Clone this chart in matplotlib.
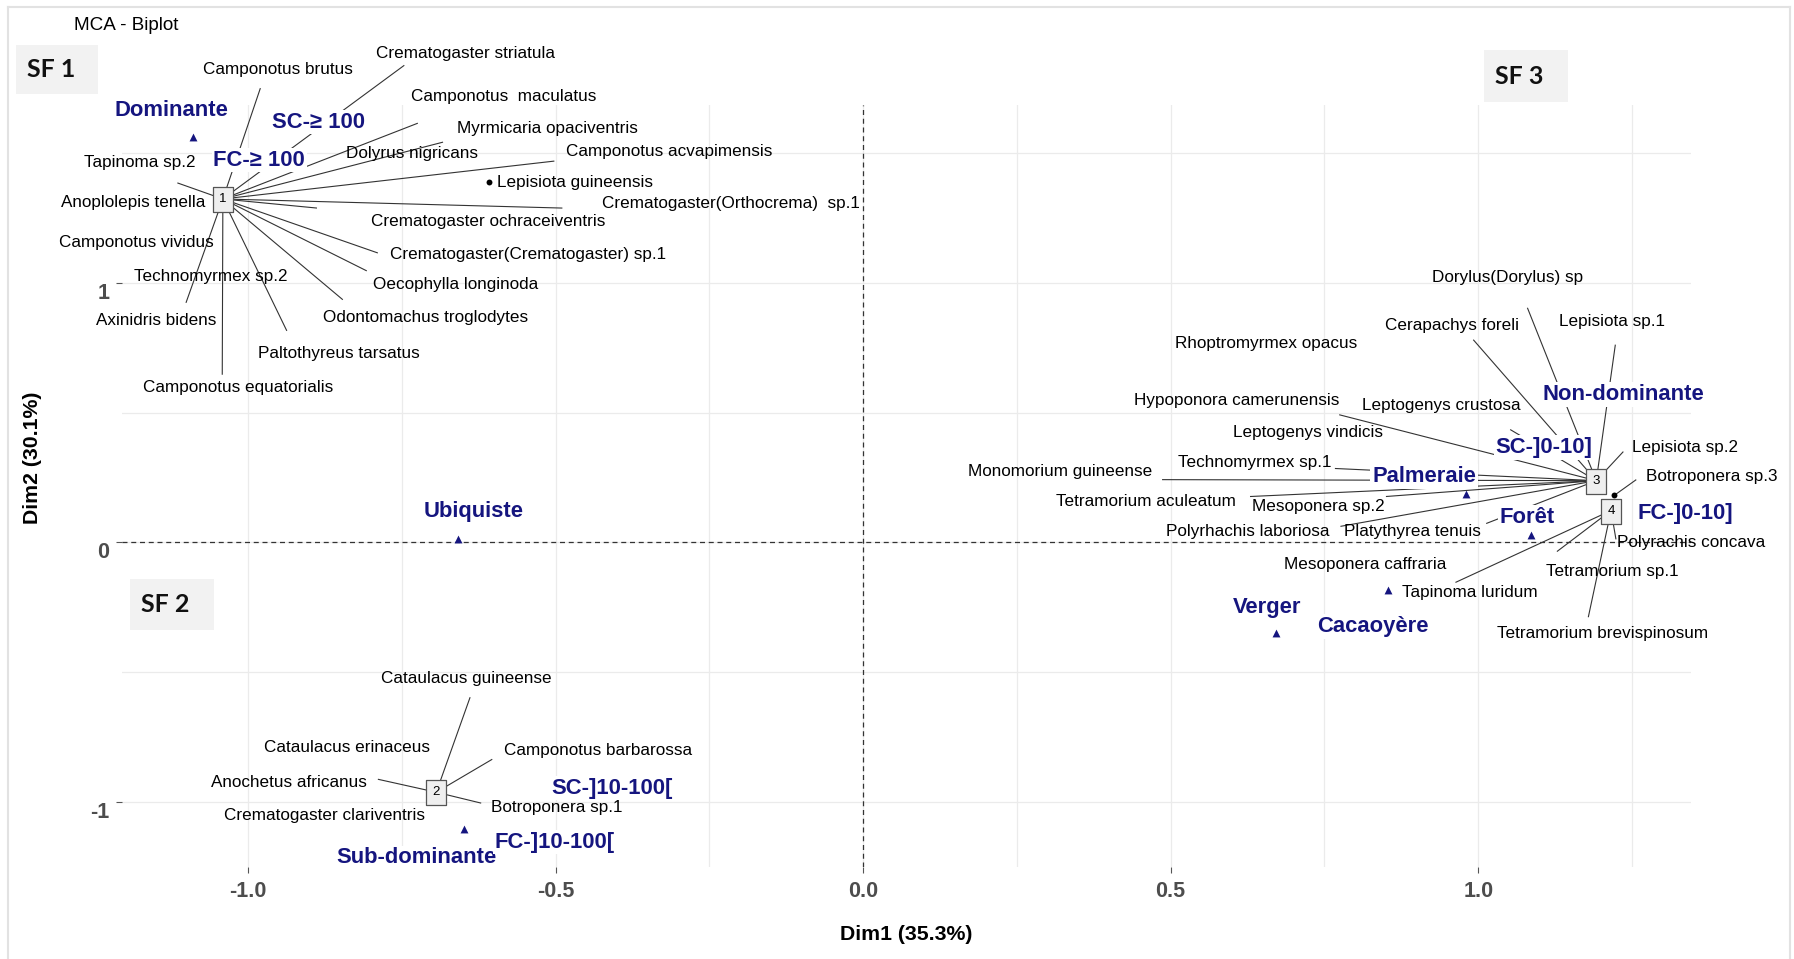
import matplotlib
matplotlib.use("Agg")
import matplotlib.pyplot as plt
import matplotlib.transforms as mtransforms
from matplotlib.path import Path
from matplotlib.patches import Rectangle
from matplotlib.lines import Line2D

plt.rcParams['font.family'] = ['Liberation Sans', 'DejaVu Sans']

# ---------------------------------------------------------------- data
# cluster centres on the first factorial plane
cluster_ids = ["1", "2", "3", "4"]
cluster_dim1 = [-1.041, -0.694, 1.192, 1.216]
cluster_dim2 = [1.323, -0.962, 0.238, 0.123]

# supplementary modalities (blue triangles)
modality_names = ["Dominante", "SC-\u2265 100", "FC-\u2265 100", "Ubiquiste",
                  "Sub-dominante", "SC-]10-100[", "FC-]10-100[", "Palmeraie",
                  "For\u00eat", "Verger", "Cacaoy\u00e8re", "Non-dominante",
                  "SC-]0-10]", "FC-]0-10]"]
modality_dim1 = [-1.089, -1.041, -1.041, -0.659, -0.649, -0.694, -0.694,
                 0.980, 1.086, 0.672, 0.854, 1.192, 1.192, 1.216]
modality_dim2 = [1.562, 1.323, 1.323, 0.015, -1.104, -0.962, -0.962,
                 0.188, 0.027, -0.350, -0.185, 0.238, 0.238, 0.123]

# species and the cluster they belong to (index into cluster lists);
# species with their own coordinates use cluster -1
species_names = [
    "Crematogaster striatula", "Camponotus brutus", "Camponotus  maculatus",
    "Myrmicaria opaciventris", "Dolyrus nigricans", "Camponotus acvapimensis",
    "Tapinoma sp.2", "Anoplolepis tenella", "Crematogaster(Orthocrema)  sp.1",
    "Crematogaster ochraceiventris", "Camponotus vividus",
    "Crematogaster(Crematogaster) sp.1", "Technomyrmex sp.2",
    "Oecophylla longinoda", "Axinidris bidens", "Odontomachus troglodytes",
    "Paltothyreus tarsatus", "Camponotus equatorialis", "Lepisiota guineensis",
    "Cataulacus guineense", "Cataulacus erinaceus", "Camponotus barbarossa",
    "Anochetus africanus", "Botroponera sp.1", "Crematogaster clariventris",
    "Dorylus(Dorylus) sp", "Lepisiota sp.1", "Cerapachys foreli",
    "Rhoptromyrmex opacus", "Hypoponora camerunensis", "Leptogenys crustosa",
    "Leptogenys vindicis", "Technomyrmex sp.1", "Monomorium guineense",
    "Tetramorium aculeatum", "Mesoponera sp.2", "Polyrhachis laboriosa",
    "Platythyrea tenuis", "Lepisiota sp.2",
    "Botroponera sp.3", "Polyrachis concava", "Mesoponera caffraria",
    "Tapinoma luridum", "Tetramorium sp.1", "Tetramorium brevispinosum",
]
species_cluster = [0] * 18 + [-1] + [1] * 6 + [2] * 14 + [-1] + [3] * 5
species_own_dim1 = {"Lepisiota guineensis": -0.608, "Botroponera sp.3": 1.221}
species_own_dim2 = {"Lepisiota guineensis": 1.388, "Botroponera sp.3": 0.181}

species_dim1 = [species_own_dim1[n] if c < 0 else cluster_dim1[c]
                for n, c in zip(species_names, species_cluster)]
species_dim2 = [species_own_dim2[n] if c < 0 else cluster_dim2[c]
                for n, c in zip(species_names, species_cluster)]

# ---------------------------------------------------------------- label layout
# repelled label centres and leader-line ends (data units)
species_label_pos = {
    "Crematogaster striatula": (-0.647, 1.885, -0.746, 1.838),
    "Camponotus brutus": (-0.951, 1.823, -0.980, 1.750),
    "Camponotus  maculatus": (-0.585, 1.719, -0.724, 1.615),
    "Myrmicaria opaciventris": (-0.514, 1.596, -0.683, 1.542),
    "Dolyrus nigricans": (-0.733, 1.500, None, None),
    "Camponotus acvapimensis": (-0.315, 1.504, -0.502, 1.469),
    "Tapinoma sp.2": (-1.176, 1.465, -1.115, 1.385),
    "Anoplolepis tenella": (-1.187, 1.308, None, None),
    "Crematogaster(Orthocrema)  sp.1": (-0.215, 1.304, -0.489, 1.288),
    "Crematogaster ochraceiventris": (-0.610, 1.235, -0.888, 1.288),
    "Camponotus vividus": (-1.182, 1.154, None, None),
    "Crematogaster(Crematogaster) sp.1": (-0.545, 1.108, -0.789, 1.115),
    "Technomyrmex sp.2": (-1.060, 1.023, None, None),
    "Oecophylla longinoda": (-0.663, 0.992, -0.807, 1.046),
    "Axinidris bidens": (-1.150, 0.854, -1.101, 0.923),
    "Odontomachus troglodytes": (-0.711, 0.865, -0.846, 0.935),
    "Paltothyreus tarsatus": (-0.852, 0.727, -0.937, 0.815),
    "Camponotus equatorialis": (-1.016, 0.596, -1.042, 0.646),
    "Lepisiota guineensis": (-0.468, 1.385, None, None),
    "Cataulacus guineense": (-0.646, -0.523, -0.639, -0.596),
    "Cataulacus erinaceus": (-0.839, -0.788, None, None),
    "Camponotus barbarossa": (-0.431, -0.800, -0.603, -0.835),
    "Anochetus africanus": (-0.933, -0.923, -0.789, -0.912),
    "Botroponera sp.1": (-0.498, -1.019, -0.621, -1.004),
    "Crematogaster clariventris": (-0.875, -1.050, None, None),
    "Dorylus(Dorylus) sp": (1.047, 1.019, 1.080, 0.904),
    "Lepisiota sp.1": (1.218, 0.850, 1.223, 0.762),
    "Cerapachys foreli": (0.958, 0.835, 0.992, 0.781),
    "Rhoptromyrmex opacus": (0.655, 0.765, None, None),
    "Hypoponora camerunensis": (0.607, 0.546, 0.774, 0.492),
    "Leptogenys crustosa": (0.940, 0.527, 1.052, 0.435),
    "Leptogenys vindicis": (0.724, 0.423, None, None),
    "Technomyrmex sp.1": (0.636, 0.308, 0.767, 0.285),
    "Monomorium guineense": (0.320, 0.273, 0.486, 0.242),
    "Tetramorium aculeatum": (0.460, 0.158, 0.629, 0.177),
    "Mesoponera sp.2": (0.740, 0.138, 0.850, 0.177),
    "Polyrhachis laboriosa": (0.626, 0.042, 0.776, 0.062),
    "Platythyrea tenuis": (0.893, 0.042, 1.013, 0.073),
    "Lepisiota sp.2": (1.337, 0.365, 1.236, 0.350),
    "Botroponera sp.3": (1.379, 0.254, 1.257, 0.242),
    "Polyrachis concava": (1.346, 0.000, 1.224, 0.012),
    "Mesoponera caffraria": (0.816, -0.085, None, None),
    "Tapinoma luridum": (0.987, -0.192, 0.963, -0.154),
    "Tetramorium sp.1": (1.218, -0.112, 1.128, -0.035),
    "Tetramorium brevispinosum": (1.203, -0.350, 1.179, -0.288),
}
modality_label_pos = [(-1.125, 1.662), (-0.885, 1.619), (-0.982, 1.473),
                      (-0.633, 0.119), (-0.727, -1.215), (-0.408, -0.946),
                      (-0.501, -1.154), (0.912, 0.254), (1.080, 0.096),
                      (0.657, -0.250), (0.828, -0.323), (1.236, 0.569),
                      (1.107, 0.365), (1.337, 0.112)]

NAVY = "#15157f"
W, H = 1794, 959

fig = plt.figure(figsize=(W / 100, H / 100), dpi=100)
ax = fig.add_axes([122 / W, (H - 867) / H, (1691 - 122) / W, (867 - 105) / H])
ax.set_xlim(-1.205, 1.346)
ax.set_ylim(-1.25, 1.685)
for s in ax.spines.values():
    s.set_visible(False)

ax.set_xticks([-1.0, -0.5, 0.0, 0.5, 1.0])
ax.set_xticklabels(["-1.0", "-0.5", "0.0", "0.5", "1.0"])
ax.set_yticks([-1, 0, 1])
ax.set_yticklabels(["-1", "0", "1"])
ax.set_xticks([-0.75, -0.25, 0.25, 0.75, 1.25], minor=True)
ax.set_yticks([-0.5, 0.5, 1.5], minor=True)
ax.grid(which="both", color="#ebebeb", lw=0.9, zorder=0)
ax.set_axisbelow(True)
ax.tick_params(which="major", length=4, width=0.8, color="#555555",
               labelcolor="#4d4d4d", labelsize=15.5)
ax.tick_params(axis="x", which="major", pad=6)
ax.tick_params(axis="y", which="major", pad=5)
ax.tick_params(which="minor", length=0)
for lab in ax.get_xticklabels() + ax.get_yticklabels():
    lab.set_fontweight("bold")
shift = mtransforms.ScaledTranslation(0, -0.08, fig.dpi_scale_trans)
for lab in ax.get_yticklabels():
    lab.set_transform(lab.get_transform() + shift)

# reference axes through the origin
ax.axhline(0, color="#333333", lw=0.9, ls=(0, (4, 3)), zorder=1)
ax.axvline(0, color="#333333", lw=0.9, ls=(0, (4, 3)), zorder=1)

# leader lines from species points to their labels
for name, x, y in zip(species_names, species_dim1, species_dim2):
    lx, ly, ex, ey = species_label_pos[name]
    if ex is not None:
        ax.plot([x, ex], [y, ey], color="#333333", lw=0.8, zorder=2,
                clip_on=False, solid_capstyle="butt")

# species points
ax.scatter(species_dim1, species_dim2, s=18, color="black", zorder=3,
           linewidths=0)

# modality points
ax.scatter(modality_dim1, modality_dim2, marker="^", s=32, color=NAVY,
           zorder=3, linewidths=0)

# cluster boxes
box = Path([(-0.4, -0.5), (0.4, -0.5), (0.4, 0.5), (-0.4, 0.5), (-0.4, -0.5)],
           [Path.MOVETO, Path.LINETO, Path.LINETO, Path.LINETO, Path.CLOSEPOLY])
ax.plot(cluster_dim1, cluster_dim2, ls="none", marker=box, markersize=18,
        mfc="#efefef", mec="#555555", mew=0.9, zorder=4)
for cid, x, y in zip(cluster_ids, cluster_dim1, cluster_dim2):
    ax.text(x, y, cid, ha="center", va="center", fontsize=9.5, zorder=5)

# species labels
for name in species_names:
    lx, ly, ex, ey = species_label_pos[name]
    ax.text(lx, ly, name, ha="center", va="center", fontsize=12.3,
            color="black", zorder=5)

# modality labels
for name, (lx, ly) in zip(modality_names, modality_label_pos):
    ax.text(lx, ly, name, ha="center", va="center", fontsize=15.8,
            fontweight="bold", color=NAVY, zorder=6,
            bbox=dict(boxstyle="square,pad=0.08", fc="white", ec="none"))

# axis titles and plot title
fig.text(906 / W, 1 - 935 / H, "Dim1 (35.3%)", ha="center", va="center",
         fontsize=15.3, fontweight="bold")
fig.text(32 / W, 1 - 458 / H, "Dim2 (30.1%)", ha="center", va="center",
         rotation=90, fontsize=15.3, fontweight="bold")
fig.text(74 / W, 1 - 25 / H, "MCA - Biplot", ha="left", va="center",
         fontsize=13.6)

# group tags (drawn above the axes background)
for tag, (x0, y0, x1, y1) in [("SF 1", (16, 45, 98, 94)),
                              ("SF 2", (130, 579, 214, 630)),
                              ("SF 3", (1484, 50, 1568, 102))]:
    fig.add_artist(Rectangle((x0 / W, 1 - y1 / H), (x1 - x0) / W,
                             (y1 - y0) / H, transform=fig.transFigure,
                             fc="#f2f2f2", ec="none", zorder=2))
    fig.text((x0 + 11) / W, 1 - (y0 + y1) / 2 / H, tag, ha="left",
             va="center", fontsize=18, fontweight="bold",
             family=["Lato", "DejaVu Sans"], color="#111111", zorder=3)

# outer frame
frame_kw = dict(transform=fig.transFigure, color="#e2e2e2", lw=1.5)
fig.add_artist(Line2D([8 / W, 8 / W], [0, 1 - 7 / H], **frame_kw))
fig.add_artist(Line2D([8 / W, 1790 / W], [1 - 7 / H, 1 - 7 / H], **frame_kw))
fig.add_artist(Line2D([1790 / W, 1790 / W], [0, 1 - 7 / H], **frame_kw))

fig.savefig("out.png", dpi=100, facecolor="white")
